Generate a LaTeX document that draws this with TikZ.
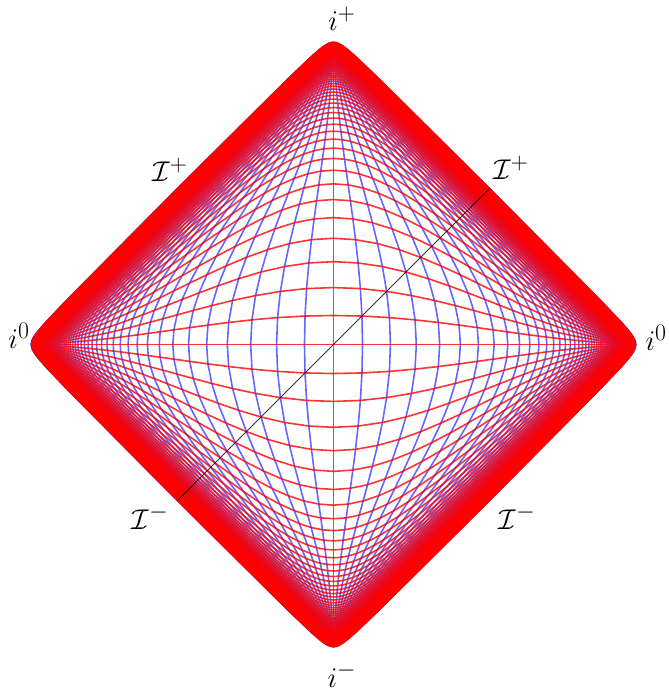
\documentclass[tikz,border=0pt]{standalone}
\usepackage{amsmath}
\tikzset{
  timeline/.style={red,line width=1.6pt,line join=round,opacity=0.8},
  spaceline/.style={blue,line width=1.6pt,line join=round,opacity=0.6},
  nullline/.style={black,line width=0.8pt,opacity=0.8},
  bndlabel/.style={font=\Huge,inner sep=0pt,scale=1.15}
}

\begin{document}
\begin{tikzpicture}[x=1bp,y=1bp]
    \useasboundingbox (-333.5,-347.5) rectangle (335.5,344.5);
    \foreach \k in {-150,...,150}{
      \pgfmathsetmacro\ang{atan(\k/7)}
      \expandafter\xdef\csname pa\k\endcsname{\ang}
    }
    \pgfmathsetmacro\vmax{atan(150/7)}
    \begin{scope}[x={(1.785bp,1.785bp)},y={(-1.785bp,1.785bp)}]
      \foreach \j in {-75,...,75}{
        \gdef\crv{}
        \foreach \i in {-75,...,75}{
          \xdef\crv{\crv(\csname pa\the\numexpr\i+\j\relax\endcsname,\csname pa\the\numexpr\i-\j\relax\endcsname)}
        }
        \draw[spaceline] plot coordinates {\crv};
      }
      \foreach \i in {-75,...,75}{
        \gdef\crv{}
        \foreach \j in {-75,...,75}{
          \xdef\crv{\crv(\csname pa\the\numexpr\i+\j\relax\endcsname,\csname pa\the\numexpr\i-\j\relax\endcsname)}
        }
        \draw[timeline] plot coordinates {\crv};
      }
      \coordinate (scriminus) at (-\vmax,0);
      \coordinate (scriplus) at (\vmax,0);
      \draw[nullline] (scriminus) -- (scriplus);
    \end{scope}
    \node[bndlabel] (ifut) at (8.5,325.5) {$i^+$};
    \node[bndlabel] (ipast) at (8.5,-330.5) {$i^-$};
    \node[bndlabel] (ispl) at (-314.5,8.5) {$i^0$};
    \node[bndlabel] (ispr) at (322.5,6.5) {$i^0$};
    \node[bndlabel] (scrpl) at (-163.5,174.5) {$\mathcal{I}^+$};
    \node[bndlabel] (scrpr) at (177.5,176.5) {$\mathcal{I}^+$};
    \node[bndlabel] (scrml) at (-183.5,-172.5) {$\mathcal{I}^-$};
    \node[bndlabel] (scrmr) at (183.5,-172.5) {$\mathcal{I}^-$};
\end{tikzpicture}
\end{document}
